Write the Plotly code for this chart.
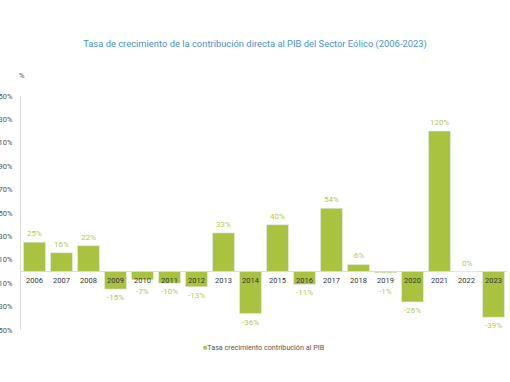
import plotly.graph_objects as go

years = ["2006", "2007", "2008", "2009", "2010", "2011", "2012", "2013", "2014",
         "2015", "2016", "2017", "2018", "2019", "2020", "2021", "2022", "2023"]
values = [25, 16, 22, -15, -7, -10, -13, 33, -36, 40, -11, 54, 6, -1, -26, 120, 0, -39]
tick_vals = [-50, -30, -10, 10, 30, 50, 70, 90, 110, 130, 150]
tick_text = [f"{v}%" for v in tick_vals]
series_name = "Tasa crecimiento contribución al PIB"

BAR = "#a9c23f"
LBL = "#b3ca55"
FONT = "Roboto"

fig = go.Figure()
fig.add_trace(go.Bar(x=years, y=values, marker_color=BAR, name=series_name, cliponaxis=False))

for i, (yr, v) in enumerate(zip(years, values)):
    # category label sitting on the zero line
    fig.add_annotation(x=i, y=0, text=yr, showarrow=False, yanchor="middle", yshift=-9,
                       font=dict(size=7.5, color="#333333", family=FONT))
    # value label: above positive bars, below negative bars (kept clear of the year label)
    if v >= 0:
        fig.add_annotation(x=i, y=v, text=f"{v}%", showarrow=False, yanchor="bottom", yshift=2,
                           font=dict(size=8, color=LBL, family=FONT))
    else:
        fig.add_annotation(x=i, y=min(v, -10), text=f"{v}%", showarrow=False, yanchor="top",
                           yshift=-2, font=dict(size=8, color=LBL, family=FONT))

fig.add_annotation(xref="paper", yref="paper", x=-0.008, y=1.115, text="%", showarrow=False,
                   font=dict(size=7.5, color="#555555", family=FONT))

fig.add_annotation(xref="paper", yref="paper", x=0.5, y=-0.075, xanchor="center", yanchor="middle",
                   text=f"<span style='color:{BAR}'>■</span>{series_name}", showarrow=False,
                   font=dict(size=7.2, color="#555555", family=FONT))

fig.update_layout(
    width=510, height=382,
    margin=dict(l=21, r=3, t=96, b=52, autoexpand=False),
    paper_bgcolor="white", plot_bgcolor="white",
    title=dict(text="Tasa de crecimiento de la contribución directa al PIB del Sector Eólico (2006-2023)",
               x=0.5, xanchor="center", y=0.885, yanchor="middle",
               font=dict(size=9.4, color="#4a90d0", family=FONT)),
    bargap=0.19,
    showlegend=False,
    xaxis=dict(type="category", range=[-0.5, 17.5], showticklabels=False, showgrid=False,
               zeroline=False, showline=False, ticks="", automargin=False),
    yaxis=dict(range=[-50, 150], tickvals=tick_vals, ticktext=tick_text, showgrid=False,
               zeroline=True, zerolinecolor="#dddddd", zerolinewidth=1,
               showline=True, linecolor="#dddddd", linewidth=1, automargin=False,
               tickfont=dict(size=7.5, color="#555555", family=FONT), ticks="",
               ticklabelstandoff=6),
)

fig.write_html("out.html", post_script="document.body.style.margin='0';",
               config={"displayModeBar": False})
